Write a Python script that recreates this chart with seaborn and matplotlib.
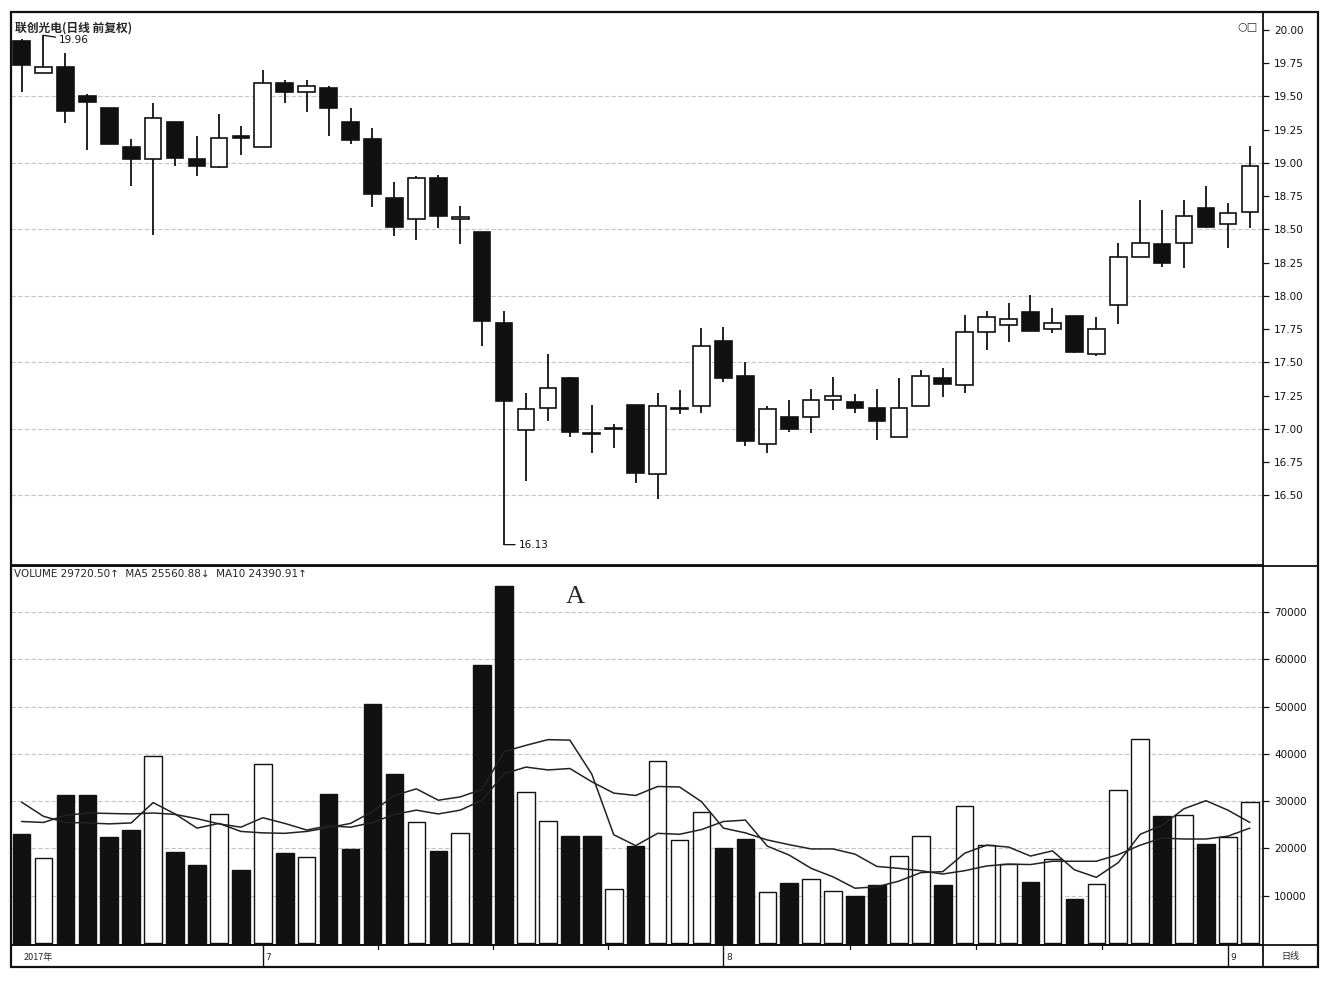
import numpy as np
import pandas as pd
import matplotlib
matplotlib.use("Agg")
import matplotlib.pyplot as plt
from matplotlib.patches import Rectangle
from matplotlib.lines import Line2D
import seaborn as sns


# ---------------- DATA ----------------
opens = [19.92, 19.68, 19.72, 19.50, 19.41, 19.12, 19.03, 19.31, 19.03, 18.97,
         19.20, 19.12, 19.60, 19.53, 19.56, 19.31, 19.18, 18.74, 18.58, 18.89,
         18.58, 18.48, 17.80, 16.99, 17.16, 17.38, 16.97, 17.00, 17.18, 16.66,
         17.15, 17.17, 17.66, 17.40, 16.89, 17.09, 17.09, 17.22, 17.20, 17.16,
         16.94, 17.17, 17.38, 17.33, 17.73, 17.78, 17.88, 17.75, 17.85, 17.56,
         17.93, 18.29, 18.39, 18.40, 18.66, 18.54, 18.63]
highs = [19.93, 19.96, 19.83, 19.52, 19.41, 19.18, 19.45, 19.31, 19.20, 19.37,
         19.28, 19.70, 19.62, 19.62, 19.58, 19.41, 19.26, 18.86, 18.90, 18.91,
         18.68, 18.48, 17.89, 17.27, 17.56, 17.39, 17.18, 17.04, 17.18, 17.27,
         17.29, 17.76, 17.77, 17.50, 17.17, 17.22, 17.30, 17.39, 17.26, 17.30,
         17.38, 17.44, 17.46, 17.86, 17.89, 17.95, 18.01, 17.91, 17.85, 17.84,
         18.40, 18.72, 18.65, 18.72, 18.83, 18.70, 19.13]
lows = [19.53, 19.68, 19.30, 19.10, 19.14, 18.83, 18.46, 18.98, 18.90, 18.96,
        19.06, 19.12, 19.45, 19.38, 19.20, 19.14, 18.67, 18.45, 18.42, 18.51,
        18.39, 17.62, 16.13, 16.61, 17.06, 16.94, 16.82, 16.86, 16.59, 16.47,
        17.11, 17.12, 17.35, 16.87, 16.82, 16.98, 16.97, 17.14, 17.12, 16.92,
        16.94, 17.17, 17.24, 17.27, 17.59, 17.65, 17.74, 17.72, 17.57, 17.55,
        17.79, 18.29, 18.22, 18.21, 18.51, 18.36, 18.51]
closes = [19.74, 19.72, 19.39, 19.46, 19.14, 19.03, 19.34, 19.04, 18.98, 19.19,
          19.19, 19.60, 19.53, 19.58, 19.41, 19.17, 18.77, 18.52, 18.89, 18.60,
          18.59, 17.81, 17.21, 17.15, 17.31, 16.98, 16.96, 17.01, 16.67, 17.17,
          17.16, 17.62, 17.38, 16.91, 17.15, 17.00, 17.22, 17.25, 17.16, 17.06,
          17.16, 17.40, 17.34, 17.73, 17.84, 17.83, 17.74, 17.80, 17.58, 17.75,
          18.29, 18.40, 18.25, 18.60, 18.52, 18.62, 18.98]

volumes = [23000, 17900, 31300, 31300, 22500, 23800, 39600, 19200, 16500, 27300,
           15500, 37800, 19100, 18100, 31500, 19900, 50500, 35800, 25500, 19500,
           23200, 58700, 75400, 32000, 25800, 22600, 22700, 11500, 20600, 38400,
           21800, 27700, 20000, 22100, 10700, 12600, 13500, 11100, 9900, 12300,
           18500, 22700, 12300, 29000, 20800, 16700, 13000, 17800, 9400, 12500,
           32300, 43200, 26900, 27100, 21000, 22500, 29800]
ma5 = [29800, 26800, 25500, 25400, 25200, 25400, 29700, 27300, 24300, 25300,
       23600, 23300, 23200, 23600, 24400, 25300, 27800, 31200, 32600, 30200,
       30900, 32500, 40500, 41800, 43000, 42900, 35700, 22900, 20600, 23200,
       23000, 24000, 25700, 26000, 20500, 18600, 15800, 14000, 11600, 11900,
       13100, 14900, 15100, 19000, 20700, 20300, 18400, 19500, 15500, 13900,
       17000, 23000, 24900, 28400, 30100, 28100, 25500]
ma10 = [25700, 25500, 27000, 27500, 27400, 27300, 27500, 27200, 26300, 25200,
        24500, 26500, 25300, 23900, 24800, 24500, 25500, 27200, 28100, 27300,
        28100, 30200, 35800, 37200, 36600, 36900, 34100, 31700, 31200, 33100,
        33000, 29900, 24300, 23300, 21800, 20800, 19900, 19900, 18800, 16200,
        15800, 15300, 14600, 15300, 16300, 16700, 16600, 17300, 17300, 17300,
        18700, 20700, 22200, 22000, 22000, 22600, 24300]

price_ticks = [16.50, 16.75, 17.00, 17.25, 17.50, 17.75, 18.00, 18.25,
               18.50, 18.75, 19.00, 19.25, 19.50, 19.75, 20.00]
price_grid = [16.5, 17.0, 17.5, 18.0, 18.5, 19.0, 19.5]
volume_ticks = [10000, 20000, 30000, 40000, 50000, 60000, 70000]
month_labels = ["2017年", "7", "8", "9"]
month_starts = [0, 11, 32, 55]

title = "联创光电(日线 前复权)"
vol_legend = "VOLUME 29720.50↑  MA5 25560.88↓  MA10 24390.91↑"


# ---------------- STYLE ----------------
sns.set_style("white")
plt.rcParams["font.family"] = ["DejaVu Sans", "Noto Sans CJK SC"]

W, H = 1328, 982
fig = plt.figure(figsize=(W / 100, H / 100), dpi=100)


def fx(px):
    return px / W


def fy(py):
    return 1 - py / H


left, right = 11, 1263
ax_p = fig.add_axes([fx(left), fy(565), fx(right - left), fy(12) - fy(565)])
ax_v = fig.add_axes([fx(left), fy(945), fx(right - left), fy(566) - fy(945)])
ax_d = fig.add_axes([fx(left), fy(967), fx(right - left), fy(945) - fy(967)])

idx = np.arange(len(opens))
o = np.array(opens)
c = np.array(closes)
up = c >= o
xlim = (-0.48, 56.6)
grid_col = "#c4c4c4"


# ---------------- CANDLES ----------------
ax_p.vlines(idx, lows, highs, color="#111111", lw=1.3, zorder=1)
body_low = np.minimum(o, c)
body_h = np.maximum(np.abs(c - o), 0.01)
ax_p.bar(idx, body_h, bottom=body_low, width=0.76,
         color=np.where(up, "white", "#111111"), edgecolor="#111111",
         linewidth=1.2, zorder=2)

for g in price_grid:
    ax_p.axhline(g, color=grid_col, lw=0.8, ls=(0, (4, 2)), zorder=0)

ax_p.annotate("19.96", xy=(1, 19.96), xytext=(1.7, 19.925),
              fontsize=7.5, va="center", color="#111111",
              arrowprops=dict(arrowstyle="-", lw=0.9, color="#111111",
                              shrinkA=0, shrinkB=0))
ax_p.annotate("16.13", xy=(22, 16.13), xytext=(22.65, 16.13),
              fontsize=7.5, va="center", color="#111111",
              arrowprops=dict(arrowstyle="-", lw=0.9, color="#111111",
                              shrinkA=0, shrinkB=0))

ax_p.set_xlim(*xlim)
ax_p.set_ylim(15.977, 20.135)
ax_p.set_xticks([])
ax_p.yaxis.tick_right()
ax_p.set_yticks(price_ticks)
ax_p.set_yticklabels([f"{t:.2f}" for t in price_ticks])
ax_p.tick_params(axis="y", direction="out", length=4, width=0.9,
                 labelsize=7.5, pad=4, colors="#111111")
ax_p.text(0.003, 0.983, title, transform=ax_p.transAxes, fontsize=8.5,
          fontweight="bold", va="top", ha="left",
          family=["Noto Sans CJK SC", "DejaVu Sans"])
ax_p.text(0.996, 0.983, "○□", transform=ax_p.transAxes, fontsize=8,
          va="top", ha="right")


# ---------------- VOLUME ----------------
vol_df = pd.DataFrame({"idx": idx, "volume": volumes,
                       "dir": np.where(up, "up", "down")})
sns.barplot(data=vol_df, x="idx", y="volume", hue="dir",
            palette={"up": "white", "down": "#111111"}, saturation=1,
            dodge=False, native_scale=True, width=0.8, errorbar=None,
            edgecolor="#111111", linewidth=1.0, legend=False, ax=ax_v)
sns.lineplot(x=idx, y=ma5, color="#222222", lw=1.1, ax=ax_v, zorder=4)
sns.lineplot(x=idx, y=ma10, color="#222222", lw=1.1, ax=ax_v, zorder=4)

for g in volume_ticks:
    ax_v.axhline(g, color=grid_col, lw=0.8, ls=(0, (4, 2)), zorder=0)

ax_v.set_xlim(*xlim)
ax_v.set_ylim(-400, 79700)
ax_v.set_xticks([])
ax_v.set_xlabel("")
ax_v.set_ylabel("")
ax_v.yaxis.tick_right()
ax_v.set_yticks(volume_ticks)
ax_v.set_yticklabels([str(t) for t in volume_ticks])
ax_v.tick_params(axis="y", direction="out", length=4, width=0.9,
                 labelsize=7.5, pad=4, colors="#111111")
ax_v.text(0.002, 0.992, vol_legend, transform=ax_v.transAxes, fontsize=7.5,
          va="top", ha="left")
ax_v.text(0.4505, 0.918, "A", transform=ax_v.transAxes, fontsize=19,
          va="center", ha="center", family="Liberation Serif")


# ---------------- DATE STRIP ----------------
ax_d.set_xlim(*xlim)
ax_d.set_ylim(0, 1)
ax_d.set_xticks([])
ax_d.set_yticks([])
for k, (m, lab) in enumerate(zip(month_starts, month_labels)):
    if k == 0:
        ax_d.text(0.1, 0.45, lab, fontsize=6.5, va="center", ha="left",
                  family=["Noto Sans CJK SC", "DejaVu Sans"])
        continue
    ax_d.axvline(m, color="#111111", lw=1.0)
    ax_d.text(m + 0.12, 0.45, lab, fontsize=6.5, va="center", ha="left")
# quarter ticks inside each full month
for a, b in zip(month_starts[1:-1], month_starts[2:]):
    for q in np.linspace(a, b, 5)[1:-1]:
        ax_d.plot([q, q], [0.8, 1.0], color="#111111", lw=0.9)

for ax in (ax_p, ax_v, ax_d):
    for s in ax.spines.values():
        s.set_color("#111111")
        s.set_linewidth(1.3)


# ---------------- FRAME ----------------
fig.add_artist(Rectangle((fx(11), fy(967)), fx(1318 - 11), fy(12) - fy(967),
                         fill=False, ec="#111111", lw=1.6,
                         transform=fig.transFigure))
for py in (566, 945):
    fig.add_artist(Line2D([fx(11), fx(1318)], [fy(py), fy(py)],
                          color="#111111", lw=1.3,
                          transform=fig.transFigure))
fig.text(fx(1290), fy(956), "日线", fontsize=6.5, ha="center", va="center",
         family=["Noto Sans CJK SC", "DejaVu Sans"])

plt.savefig("out.png", dpi=100)
plt.close()
